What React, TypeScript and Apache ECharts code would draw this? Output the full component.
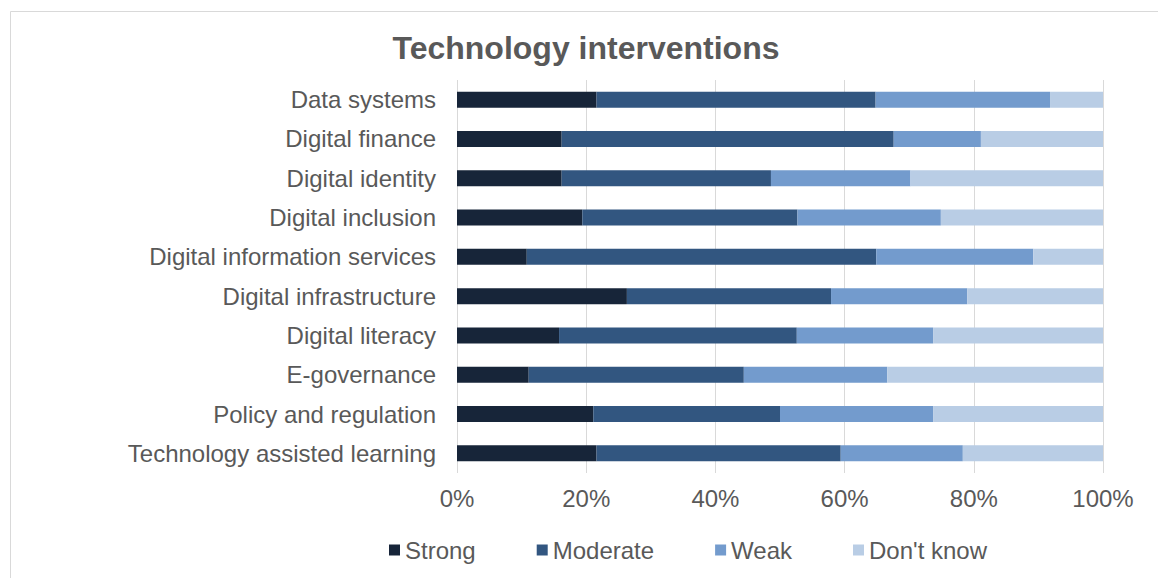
import React, { useEffect, useRef } from "react";
import * as echarts from "echarts";

const categories = [
  "Data systems",
  "Digital finance",
  "Digital identity",
  "Digital inclusion",
  "Digital information services",
  "Digital infrastructure",
  "Digital literacy",
  "E-governance",
  "Policy and regulation",
  "Technology assisted learning",
];

const strong = [21.6, 16.2, 16.2, 19.4, 10.8, 26.3, 15.8, 11.1, 21.1, 21.6];
const moderate = [43.2, 51.4, 32.4, 33.3, 54.1, 31.6, 36.8, 33.3, 28.9, 37.8];
const weak = [27.0, 13.5, 21.6, 22.2, 24.3, 21.1, 21.1, 22.2, 23.7, 18.9];
const dontKnow = [8.2, 18.9, 29.8, 25.1, 10.8, 21.0, 26.3, 33.4, 26.3, 21.7];

const seriesNames = ["Strong", "Moderate", "Weak", "Don't know"];
const seriesColors = ["#172539", "#325680", "#739bcd", "#b9cde5"];
const seriesData = [strong, moderate, weak, dontKnow];

const xTicks = [0, 20, 40, 60, 80, 100];

export default function App() {
  const ref = useRef<HTMLDivElement>(null);
  useEffect(() => {
    if (!ref.current) return;
    const chart = echarts.init(ref.current, null, { renderer: "svg" });
    const font = "'Liberation Sans', Arial, sans-serif";
    chart.setOption({
      animation: false,
      textStyle: { fontFamily: font },
      title: {
        text: "Technology interventions",
        left: 581,
        top: 27,
        textAlign: "center",
        textStyle: { fontSize: 32, fontWeight: "bold", color: "#595959", fontFamily: font },
      },
      graphic: [
        {
          type: "rect",
          shape: { x: 10.5, y: 11.5, width: 1200, height: 600 },
          style: { fill: "none", stroke: "#d9d9d9", lineWidth: 1 },
          silent: true,
        },
      ],
      legend: {
        data: seriesNames,
        left: 384,
        top: 533,
        icon: "rect",
        itemWidth: 11,
        itemHeight: 11,
        itemGap: 61,
        textStyle: { fontSize: 24, color: "#595959", fontFamily: font },
      },
      grid: { left: 457, right: 55, top: 80, bottom: 105 },
      xAxis: {
        type: "value",
        min: xTicks[0],
        max: xTicks[xTicks.length - 1],
        interval: 20,
        axisLabel: {
          formatter: (v: number) => `${v}%`,
          fontSize: 24,
          color: "#595959",
          margin: 13,
          fontFamily: font,
        },
        axisLine: { show: false },
        axisTick: { show: false },
        splitLine: { show: true, lineStyle: { color: "#d9d9d9", width: 1 } },
      },
      yAxis: {
        type: "category",
        data: categories,
        inverse: true,
        axisLabel: { fontSize: 24, color: "#595959", margin: 21, fontFamily: font },
        axisLine: { show: false },
        axisTick: { show: false },
      },
      series: seriesNames.map((name, i) => ({
        name,
        type: "bar",
        stack: "total",
        barWidth: 16,
        data: seriesData[i],
        itemStyle: { color: seriesColors[i] },
      })),
    });
    return () => chart.dispose();
  }, []);
  return (
    <div
      ref={ref}
      style={{ position: "absolute", left: 0, top: 0, width: 1158, height: 578, background: "#fff" }}
    />
  );
}
